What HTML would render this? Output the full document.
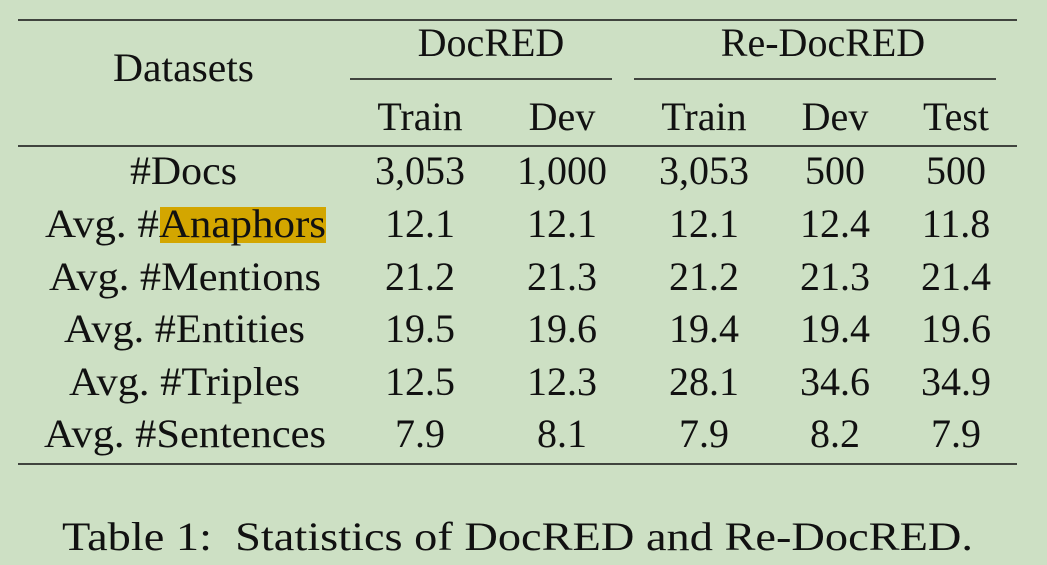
<!DOCTYPE html>
<html><head><meta charset="utf-8"><style>
html,body{margin:0;padding:0;background:#cde0c4;}
svg{display:block;font-family:"Liberation Serif",serif;}
</style></head><body>
<svg width="1047" height="565" viewBox="0 0 1047 565" xmlns="http://www.w3.org/2000/svg">
<rect width="1047" height="565" fill="#cde0c4"/>
<g stroke="#111" stroke-width="1.6">
<line x1="18" y1="20" x2="1017" y2="20"/>
<line x1="350" y1="79" x2="612" y2="79"/>
<line x1="634" y1="79" x2="996" y2="79"/>
<line x1="18" y1="146" x2="1017" y2="146"/>
<line x1="18" y1="464" x2="1017" y2="464"/>
</g>
<rect x="160" y="207" width="166" height="36" fill="#d3a600"/>
<g font-size="40" fill="#111" text-anchor="middle" lengthAdjust="spacingAndGlyphs">
<text x="183.5" y="81" textLength="141" lengthAdjust="spacingAndGlyphs">Datasets</text>
<text x="491" y="56">DocRED</text>
<text x="823" y="56">Re-DocRED</text>
<text x="420" y="130">Train</text>
<text x="562" y="130">Dev</text>
<text x="704" y="130">Train</text>
<text x="835" y="130">Dev</text>
<text x="956" y="130">Test</text>

<text x="183.5" y="184" textLength="107" lengthAdjust="spacingAndGlyphs">#Docs</text>
<text x="420" y="184">3,053</text><text x="562" y="184">1,000</text><text x="704" y="184">3,053</text><text x="835" y="184">500</text><text x="956" y="184">500</text>

<text x="185.5" y="237" textLength="281" lengthAdjust="spacingAndGlyphs">Avg. #Anaphors</text>
<text x="420" y="237">12.1</text><text x="562" y="237">12.1</text><text x="704" y="237">12.1</text><text x="835" y="237">12.4</text><text x="956" y="237">11.8</text>

<text x="185" y="290" textLength="272" lengthAdjust="spacingAndGlyphs">Avg. #Mentions</text>
<text x="420" y="290">21.2</text><text x="562" y="290">21.3</text><text x="704" y="290">21.2</text><text x="835" y="290">21.3</text><text x="956" y="290">21.4</text>

<text x="184.5" y="342" textLength="241" lengthAdjust="spacingAndGlyphs">Avg. #Entities</text>
<text x="420" y="342">19.5</text><text x="562" y="342">19.6</text><text x="704" y="342">19.4</text><text x="835" y="342">19.4</text><text x="956" y="342">19.6</text>

<text x="184.5" y="395" textLength="231" lengthAdjust="spacingAndGlyphs">Avg. #Triples</text>
<text x="420" y="395">12.5</text><text x="562" y="395">12.3</text><text x="704" y="395">28.1</text><text x="835" y="395">34.6</text><text x="956" y="395">34.9</text>

<text x="185" y="447" textLength="282" lengthAdjust="spacingAndGlyphs">Avg. #Sentences</text>
<text x="420" y="447">7.9</text><text x="562" y="447">8.1</text><text x="704" y="447">7.9</text><text x="835" y="447">8.2</text><text x="956" y="447">7.9</text>

<text x="517.5" y="550" textLength="911" lengthAdjust="spacingAndGlyphs" xml:space="preserve">Table 1:  Statistics of DocRED and Re-DocRED.</text>
</g>
</svg>
</body></html>
